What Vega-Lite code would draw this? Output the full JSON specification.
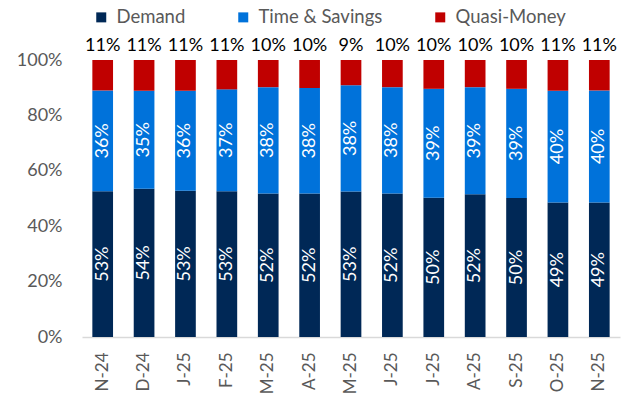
{
  "$schema": "https://vega.github.io/schema/vega-lite/v6.json",
  "width": 538,
  "height": 277,
  "autosize": "none",
  "padding": {"left": 82, "top": 60, "right": 1, "bottom": 59},
  "config": {
    "view": {"stroke": null},
    "font": "Lato",
    "axis": {"labelFont": "Lato", "labelColor": "#595959", "labelFontSize": 18, "grid": false, "ticks": false, "title": null},
    "legend": {"labelFont": "Lato"}
  },
  "datasets": {
    "seriesRank": [
      {"series": "Demand", "rank": 1},
      {"series": "Time & Savings", "rank": 2},
      {"series": "Quasi-Money", "rank": 3}
    ]
  },
  "data": {
    "values": [
      {"month": "Nov-24", "series": "Demand", "value": 0.526},
      {"month": "Nov-24", "series": "Time & Savings", "value": 0.364},
      {"month": "Nov-24", "series": "Quasi-Money", "value": 0.110},
      {"month": "Dec-24", "series": "Demand", "value": 0.535},
      {"month": "Dec-24", "series": "Time & Savings", "value": 0.354},
      {"month": "Dec-24", "series": "Quasi-Money", "value": 0.111},
      {"month": "Jan-25", "series": "Demand", "value": 0.528},
      {"month": "Jan-25", "series": "Time & Savings", "value": 0.361},
      {"month": "Jan-25", "series": "Quasi-Money", "value": 0.111},
      {"month": "Feb-25", "series": "Demand", "value": 0.526},
      {"month": "Feb-25", "series": "Time & Savings", "value": 0.368},
      {"month": "Feb-25", "series": "Quasi-Money", "value": 0.106},
      {"month": "Mar-25", "series": "Demand", "value": 0.518},
      {"month": "Mar-25", "series": "Time & Savings", "value": 0.384},
      {"month": "Mar-25", "series": "Quasi-Money", "value": 0.098},
      {"month": "Apr-25", "series": "Demand", "value": 0.518},
      {"month": "Apr-25", "series": "Time & Savings", "value": 0.381},
      {"month": "Apr-25", "series": "Quasi-Money", "value": 0.101},
      {"month": "May-25", "series": "Demand", "value": 0.525},
      {"month": "May-25", "series": "Time & Savings", "value": 0.384},
      {"month": "May-25", "series": "Quasi-Money", "value": 0.091},
      {"month": "Jun-25", "series": "Demand", "value": 0.518},
      {"month": "Jun-25", "series": "Time & Savings", "value": 0.384},
      {"month": "Jun-25", "series": "Quasi-Money", "value": 0.098},
      {"month": "Jul-25", "series": "Demand", "value": 0.503},
      {"month": "Jul-25", "series": "Time & Savings", "value": 0.393},
      {"month": "Jul-25", "series": "Quasi-Money", "value": 0.104},
      {"month": "Aug-25", "series": "Demand", "value": 0.515},
      {"month": "Aug-25", "series": "Time & Savings", "value": 0.387},
      {"month": "Aug-25", "series": "Quasi-Money", "value": 0.098},
      {"month": "Sep-25", "series": "Demand", "value": 0.502},
      {"month": "Sep-25", "series": "Time & Savings", "value": 0.394},
      {"month": "Sep-25", "series": "Quasi-Money", "value": 0.104},
      {"month": "Oct-25", "series": "Demand", "value": 0.486},
      {"month": "Oct-25", "series": "Time & Savings", "value": 0.403},
      {"month": "Oct-25", "series": "Quasi-Money", "value": 0.111},
      {"month": "Nov-25", "series": "Demand", "value": 0.486},
      {"month": "Nov-25", "series": "Time & Savings", "value": 0.404},
      {"month": "Nov-25", "series": "Quasi-Money", "value": 0.110}
    ]
  },
  "transform": [
    {"lookup": "series", "from": {"data": {"name": "seriesRank"}, "key": "series", "fields": ["rank"]}}
  ],
  "encoding": {
    "x": {
      "field": "month",
      "type": "nominal",
      "sort": null,
      "scale": {"paddingInner": 0.5, "paddingOuter": 0.25},
      "axis": {
        "labelAngle": -90,
        "labelPadding": 15,
        "labelFontSize": 17,
        "domainColor": "#d9d9d9",
        "domainWidth": 1.5,
        "labelExpr": "substring(datum.label, 0, 1) + substring(datum.label, 3)"
      }
    }
  },
  "layer": [
    {
      "mark": {"type": "bar"},
      "encoding": {
        "y": {
          "field": "value",
          "type": "quantitative",
          "stack": "zero",
          "scale": {"domain": [0, 1], "nice": false},
          "axis": {"domain": false, "format": ".0%", "values": [0, 0.2, 0.4, 0.6, 0.8, 1], "labelPadding": 20}
        },
        "order": {"field": "rank", "type": "quantitative", "sort": "ascending"},
        "color": {
          "field": "series",
          "type": "nominal",
          "sort": ["Demand", "Time & Savings", "Quasi-Money"],
          "scale": {"domain": ["Demand", "Time & Savings", "Quasi-Money"], "range": ["#002856", "#0072DA", "#C00000"]},
          "legend": {
            "title": null,
            "orient": "none",
            "direction": "horizontal",
            "legendX": 10,
            "legendY": -52,
            "symbolType": "square",
            "symbolSize": 100,
            "symbolStrokeWidth": 0,
            "symbolOpacity": 1,
            "labelFontSize": 18.5,
            "labelColor": "#595959",
            "labelOffset": 6,
            "columnPadding": 48
          }
        }
      }
    },
    {
      "transform": [{"filter": "datum.series !== 'Quasi-Money'"}],
      "mark": {"type": "text", "angle": 270, "color": "#ffffff", "fontSize": 18, "align": "center", "baseline": "middle"},
      "encoding": {
        "y": {"field": "value", "type": "quantitative", "stack": "zero", "bandPosition": 0.5},
        "detail": {"field": "series"},
        "order": {"field": "rank", "type": "quantitative", "sort": "ascending"},
        "text": {"field": "value", "type": "quantitative", "format": ".0%"}
      }
    },
    {
      "transform": [{"filter": "datum.series === 'Quasi-Money'"}],
      "mark": {"type": "text", "color": "#000000", "fontSize": 18, "align": "center", "baseline": "bottom", "dy": -5},
      "encoding": {
        "y": {"datum": 1, "type": "quantitative"},
        "text": {"field": "value", "type": "quantitative", "format": ".0%"}
      }
    }
  ]
}
